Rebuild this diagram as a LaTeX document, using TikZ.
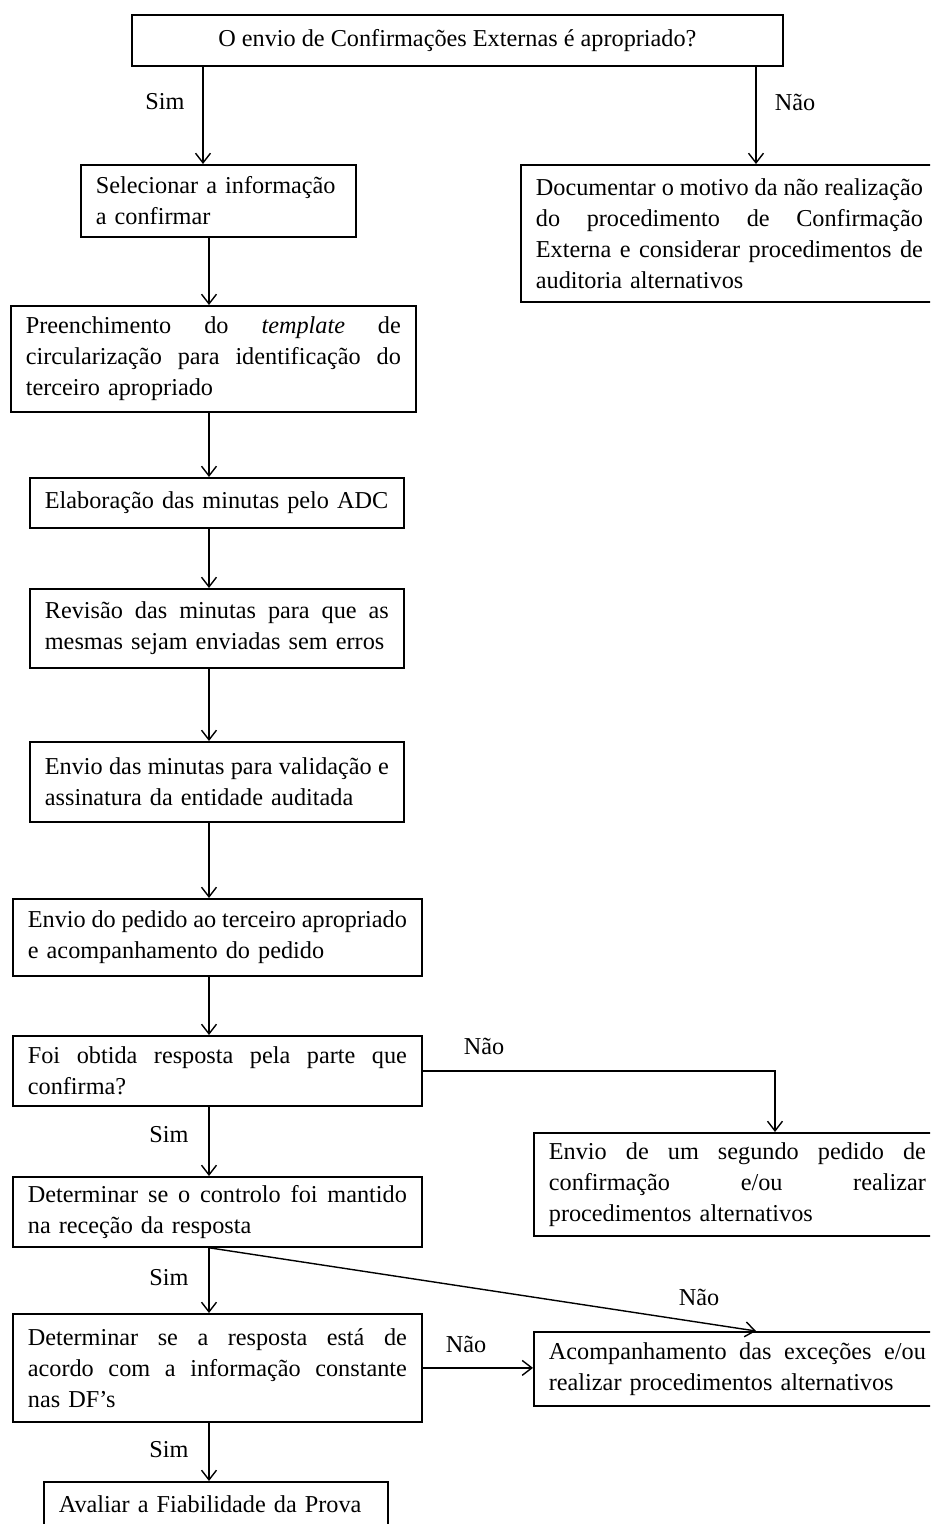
\documentclass[tikz,border=0pt]{standalone}
\usepackage{fontspec}
\setmainfont{Liberation Serif}
\usetikzlibrary{arrows.meta}
\newcommand{\jl}[1]{\makebox[\hsize][s]{\spaceskip=.25em plus 1fil minus .1em\relax #1}}

\tikzset{
  box/.style={draw, line width=1pt, anchor=north west, inner xsep=3mm, inner ysep=0pt,
    align=left, font=\fontsize{13.8}{17.6}\selectfont},
  lbl/.style={font=\fontsize{13.8}{17.6}\selectfont},
  arr/.style={draw, line width=0.8pt, -{Straight Barb[length=5.5pt,width=8.5pt]}}
}

\begin{document}
\begin{tikzpicture}[x=0.2mm, y=-0.2mm]
\clip (0,0) rectangle (930,1524);
% columns of the connectors
\coordinate (colS) at (203,0);
\coordinate (colN) at (756,0);
\coordinate (colA) at (209,0);
\coordinate (colM) at (775,0);

\node[box, minimum width=130.2mm, minimum height=10.2mm, align=center] (q1) at (131,14)
  {O envio de Confirmações Externas é apropriado?};

\node[box, text width=49mm, minimum height=14.4mm] (sel) at (80,164)
  {Selecionar a informação\\ a confirmar};
\node[box, text width=77.4mm, minimum height=27.4mm] (doc) at (520,164)
  {\jl{Documentar o motivo da não realização}\\ \jl{do procedimento de Confirmação}\\
   \jl{Externa e considerar procedimentos de}\\ auditoria alternativos};

\node[box, text width=75mm, minimum height=21.2mm] (tpl) at (10,305)
  {\jl{Preenchimento do \textit{template} de}\\ \jl{circularização para identificação do}\\
   terceiro apropriado};
\node[box, text width=68.8mm, minimum height=10mm] (ela) at (29,477)
  {Elaboração das minutas pelo ADC};
\node[box, text width=68.8mm, minimum height=15.8mm] (rev) at (29,588)
  {\jl{Revisão das minutas para que as}\\ mesmas sejam enviadas sem erros};
\node[box, text width=68.8mm, minimum height=16mm] (env) at (29,741)
  {\jl{Envio das minutas para validação e}\\ assinatura da entidade auditada};
\node[box, text width=75.8mm, minimum height=15.4mm] (ped) at (12,898)
  {\jl{Envio do pedido ao terceiro apropriado}\\ e acompanhamento do pedido};
\node[box, text width=75.8mm, minimum height=14mm] (foi) at (12,1035)
  {\jl{Foi obtida resposta pela parte que}\\ confirma?};
\node[box, text width=75.4mm, minimum height=20.6mm] (seg) at (533,1132)
  {\jl{Envio de um segundo pedido de}\\ \jl{confirmação e/ou realizar}\\
   procedimentos alternativos};
\node[box, text width=75.8mm, minimum height=14mm] (ctl) at (12,1176)
  {\jl{Determinar se o controlo foi mantido}\\ na receção da resposta};
\node[box, text width=75.8mm, minimum height=21.6mm] (dfs) at (12,1313)
  {\jl{Determinar se a resposta está de}\\ \jl{acordo com a informação constante}\\
   nas DF’s};
\node[box, text width=75.4mm, minimum height=14.8mm] (acp) at (533,1331)
  {\jl{Acompanhamento das exceções e/ou}\\ realizar procedimentos alternativos};
\node[box, text width=62.8mm, minimum height=9mm] (aval) at (43,1481)
  {Avaliar a Fiabilidade da Prova};

% labels
\node[lbl] (sim1) at (165,102) {Sim};
\node[lbl] (nao1) at (795,102) {Não};
\node[lbl] (nao2) at (484,1046) {Não};
\node[lbl] (sim2) at (169,1135) {Sim};
\node[lbl] (sim3) at (169,1278) {Sim};
\node[lbl] (nao3) at (699,1297) {Não};
\node[lbl] (nao4) at (466,1344) {Não};
\node[lbl] (sim4) at (169,1450) {Sim};

% connectors
\draw[arr] (q1.south -| colS) -- (sel.north -| colS);
\draw[arr] (q1.south -| colN) -- (doc.north -| colN);
\draw[arr] (sel.south -| colA) -- (tpl.north -| colA);
\draw[arr] (tpl.south -| colA) -- (ela.north -| colA);
\draw[arr] (ela.south -| colA) -- (rev.north -| colA);
\draw[arr] (rev.south -| colA) -- (env.north -| colA);
\draw[arr] (env.south -| colA) -- (ped.north -| colA);
\draw[arr] (ped.south -| colA) -- (foi.north -| colA);
\draw[arr] (foi.east) -| (seg.north -| colM);
\draw[arr] (foi.south -| colA) -- (ctl.north -| colA);
\draw[arr] (ctl.south -| colA) -- (dfs.north -| colA);
\draw[arr] (ctl.south -| colA) -- (acp.north -| colN);
\draw[arr] (dfs.east) -- (dfs.east -| acp.west);
\draw[arr] (dfs.south -| colA) -- (aval.north -| colA);
\end{tikzpicture}
\end{document}
